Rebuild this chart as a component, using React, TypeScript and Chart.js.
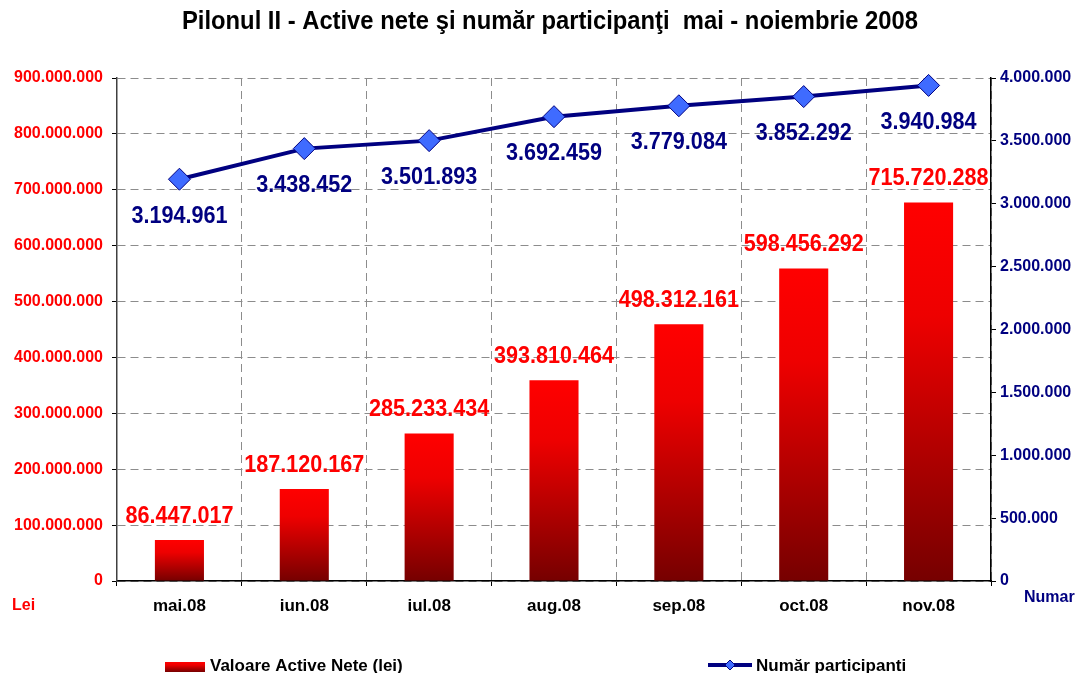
import React, { useEffect, useRef } from "react";
import { Chart, registerables } from "chart.js";

Chart.register(...registerables);

const categories = ["mai.08", "iun.08", "iul.08", "aug.08", "sep.08", "oct.08", "nov.08"];
// bar heights as drawn in the picture (left axis, lei)
const netAssetsBars = [73.3e6, 164.4e6, 263.9e6, 359.1e6, 459.2e6, 559.2e6, 677.2e6];
// values printed above the bars
const netAssetsLabels = [86447017, 187120167, 285233434, 393810464, 498312161, 598456292, 715720288];
// participants (right axis)
const participants = [3194961, 3438452, 3501893, 3692459, 3779084, 3852292, 3940984];

const leftMax = 900000000;
const leftStep = 100000000;
const rightMax = 4000000;
const rightStep = 500000;

const titleText = "Pilonul II - Active nete şi număr participanţi  mai - noiembrie 2008";
const barSeriesName = "Valoare Active Nete (lei)";
const lineSeriesName = "Număr participanti";
const leftUnit = "Lei";
const rightUnit = "Numar";

const RED = "#FF0000";
const NAVY = "#000080";
const POINT_BLUE = "#3F6BFF";
const GRID = "#8c8c8c";
const FONT = '"Liberation Sans", Arial, sans-serif';

function fmt(n: number): string {
  return Math.round(n).toString().replace(/\B(?=(\d{3})+(?!\d))/g, ".");
}

function barGradient(ctx: CanvasRenderingContext2D, top: number, bottom: number) {
  const g = ctx.createLinearGradient(0, top, 0, bottom);
  g.addColorStop(0, "#FF0000");
  g.addColorStop(0.3, "#EE0000");
  g.addColorStop(1, "#760000");
  return g;
}

function condensedText(ctx: CanvasRenderingContext2D, text: string, x: number, y: number, sx: number) {
  ctx.save();
  ctx.translate(x, y);
  ctx.scale(sx, 1);
  ctx.fillText(text, 0, 0);
  ctx.restore();
}

const overlayPlugin = {
  id: "overlay",
  afterDatasetsDraw(chart: any) {
    const ctx: CanvasRenderingContext2D = chart.ctx;
    const barMeta = chart.getDatasetMeta(0);
    const lineMeta = chart.getDatasetMeta(1);
    ctx.save();
    ctx.font = `bold 24px ${FONT}`;
    ctx.textAlign = "center";
    ctx.textBaseline = "middle";
    ctx.fillStyle = RED;
    barMeta.data.forEach((el: any, i: number) => {
      condensedText(ctx, fmt(netAssetsLabels[i]), el.x, el.y - 24, 0.9);
    });
    ctx.fillStyle = NAVY;
    lineMeta.data.forEach((el: any, i: number) => {
      condensedText(ctx, fmt(participants[i]), el.x, el.y + 37, 0.9);
    });
    ctx.restore();
  },
  afterDraw(chart: any) {
    const ctx: CanvasRenderingContext2D = chart.ctx;
    ctx.save();
    // title
    ctx.font = `bold 25px ${FONT}`;
    ctx.fillStyle = "#000000";
    ctx.textAlign = "center";
    ctx.textBaseline = "middle";
    const w = ctx.measureText(titleText).width;
    condensedText(ctx, titleText, 550, 22, 736 / w);

    // axis unit labels
    ctx.font = `bold 16px ${FONT}`;
    ctx.textAlign = "left";
    ctx.fillStyle = RED;
    ctx.fillText(leftUnit, 12, 606);
    ctx.fillStyle = NAVY;
    ctx.fillText(rightUnit, 1024, 598);

    // legend
    ctx.fillStyle = barGradient(ctx, 662, 672);
    ctx.fillRect(165, 662, 40, 10);
    ctx.font = `bold 17px ${FONT}`;
    ctx.fillStyle = "#000000";
    ctx.fillText(barSeriesName, 210, 666);

    ctx.strokeStyle = NAVY;
    ctx.lineWidth = 4;
    ctx.beginPath();
    ctx.moveTo(708, 665);
    ctx.lineTo(752, 665);
    ctx.stroke();
    ctx.beginPath();
    ctx.moveTo(730, 660);
    ctx.lineTo(735, 665);
    ctx.lineTo(730, 670);
    ctx.lineTo(725, 665);
    ctx.closePath();
    ctx.fillStyle = POINT_BLUE;
    ctx.fill();
    ctx.lineWidth = 1;
    ctx.stroke();
    ctx.fillStyle = "#000000";
    ctx.fillText(lineSeriesName, 756, 666);
    ctx.restore();
  },
};

export default function App() {
  const canvasRef = useRef<HTMLCanvasElement | null>(null);

  useEffect(() => {
    const canvas = canvasRef.current;
    if (!canvas) return;
    const chart = new Chart(canvas, {
      type: "bar",
      data: {
        labels: categories,
        datasets: [
          {
            type: "bar",
            label: barSeriesName,
            data: netAssetsBars,
            yAxisID: "y",
            order: 1,
            barPercentage: 0.393,
            categoryPercentage: 1,
            borderWidth: 0,
            backgroundColor: (c: any) => {
              const ch = c.chart;
              if (!ch.chartArea || c.type !== "data") return RED;
              const ys = ch.scales.y;
              const top = ys.getPixelForValue(c.raw);
              const bottom = ys.getPixelForValue(0);
              return barGradient(ch.ctx, top, bottom);
            },
          } as any,
          {
            type: "line",
            label: lineSeriesName,
            data: participants,
            yAxisID: "y1",
            order: 0,
            borderColor: NAVY,
            borderWidth: 4,
            pointStyle: "rectRot",
            pointRadius: 11,
            pointBackgroundColor: POINT_BLUE,
            pointBorderColor: NAVY,
            pointBorderWidth: 1,
            tension: 0,
            clip: false,
          } as any,
        ],
      },
      options: {
        animation: false,
        responsive: false,
        devicePixelRatio: 1,
        layout: { padding: { left: 0, right: 0, top: 78, bottom: 0 } },
        plugins: {
          legend: { display: false },
          tooltip: { enabled: false },
          title: { display: false },
        },
        scales: {
          x: {
            offset: true,
            grid: {
              offset: true,
              color: GRID,
              lineWidth: 1,
              tickLength: 5,
              tickColor: "#000000",
            },
            border: { display: true, color: "#000000", width: 1.5, dash: [8, 5] },
            ticks: {
              color: "#000000",
              font: { family: FONT, size: 17, weight: "bold" },
              padding: 10,
              maxRotation: 0,
            },
            afterFit: (s: any) => {
              s.height = 92;
            },
          },
          y: {
            position: "left",
            min: 0,
            max: leftMax,
            grid: {
              color: GRID,
              lineWidth: 1,
              tickLength: 5,
              tickColor: "#000000",
            },
            border: { display: true, color: "#404040", width: 1.5, dash: [8, 5] },
            ticks: {
              stepSize: leftStep,
              color: RED,
              font: { family: FONT, size: 16, weight: "bold" },
              padding: 9,
              callback: (v: any) => fmt(Number(v)),
            },
            afterFit: (s: any) => {
              s.width = 117;
            },
          },
          y1: {
            position: "right",
            min: 0,
            max: rightMax,
            grid: {
              drawOnChartArea: false,
              tickLength: 5,
              tickColor: "#000000",
              color: "#000000",
            },
            border: { display: true, color: "#000000", width: 1.5 },
            ticks: {
              stepSize: rightStep,
              color: NAVY,
              font: { family: FONT, size: 16, weight: "bold" },
              padding: 4,
              callback: (v: any) => fmt(Number(v)),
            },
            afterFit: (s: any) => {
              s.width = 87;
            },
          },
        },
      } as any,
      plugins: [overlayPlugin],
    });
    return () => {
      chart.destroy();
    };
  }, []);

  return (
    <div style={{ position: "absolute", left: 0, top: 0, width: 1078, height: 673, background: "#ffffff" }}>
      <canvas ref={canvasRef} width={1078} height={673} style={{ display: "block" }} />
    </div>
  );
}
